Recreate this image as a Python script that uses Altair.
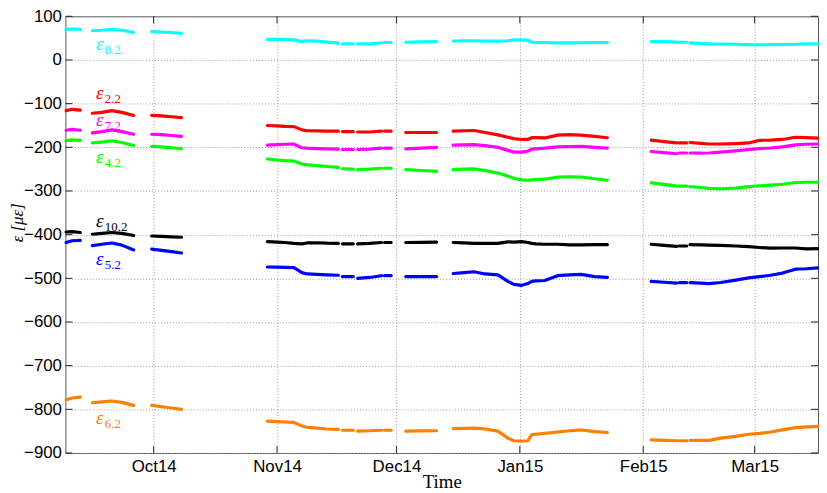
import altair as alt
import pandas as pd

# ---------------- data ----------------
seg_times = [
    ["2014-09-09T00:00", "2014-09-10T12:00", "2014-09-12T14:00"],
    ["2014-09-15T14:00", "2014-09-18T00:00", "2014-09-20T12:00", "2014-09-23T00:00", "2014-09-26T00:00"],
    ["2014-09-30T12:00", "2014-10-03T00:00", "2014-10-05T12:00", "2014-10-08T00:00"],
    ["2014-10-29T14:00", "2014-11-01T00:00", "2014-11-03T00:00", "2014-11-05T06:00", "2014-11-07T06:00",
     "2014-11-08T12:00", "2014-11-11T00:00", "2014-11-13T12:00", "2014-11-16T10:00"],
    ["2014-11-17T10:00", "2014-11-20T04:00"],
    ["2014-11-21T06:00", "2014-11-24T06:00", "2014-11-27T06:00"],
    ["2014-11-28T00:00", "2014-11-29T16:00"],
    ["2014-12-03T08:00", "2014-12-07T06:00", "2014-12-11T02:00"],
    ["2014-12-15T06:00", "2014-12-18T00:00", "2014-12-20T12:00", "2014-12-23T06:00", "2014-12-26T12:00",
     "2014-12-29T00:00", "2014-12-30T12:00", "2015-01-01T12:00", "2015-01-03T00:00", "2015-01-04T00:00",
     "2015-01-05T00:00", "2015-01-07T06:00", "2015-01-10T12:00", "2015-01-13T12:00", "2015-01-16T10:00",
     "2015-01-19T18:00", "2015-01-23T00:00"],
    ["2015-02-03T00:00", "2015-02-06T06:00", "2015-02-09T10:00"],
    ["2015-02-10T00:00", "2015-02-11T22:00"],
    ["2015-02-12T18:00", "2015-02-15T12:00", "2015-02-17T12:00", "2015-02-20T12:00", "2015-02-24T06:00",
     "2015-02-27T12:00", "2015-03-02T06:00", "2015-03-05T00:00", "2015-03-08T00:00", "2015-03-11T06:00",
     "2015-03-14T00:00", "2015-03-16T20:00"],
]

eps_8_2 = [
    [70, 71, 70],
    [67, 68, 70, 68, 63],
    [65, 64, 63, 61],
    [47, 47, 46.5, 46, 42, 44, 43, 41, 38.5],
    [37, 37],
    [37, 37, 39.5],
    [40, 40],
    [40.5, 41.5, 42],
    [43.5, 44, 44, 43, 43, 44, 46, 46, 45, 41, 40, 40, 39, 39, 39.5, 40, 40],
    [42, 42, 41],
    [40.5, 40.5],
    [39, 38, 37, 36.5, 36, 35, 34.8, 35, 35.5, 36, 37, 37],
]
eps_2_2 = [
    [-116, -113, -115],
    [-122, -120, -116, -120, -127],
    [-127, -128, -130, -132],
    [-150, -151, -152, -152.6, -160, -162, -162.5, -163, -163],
    [-164, -164],
    [-165, -165, -163],
    [-163, -163],
    [-166, -166, -166],
    [-163, -162, -161.5, -166, -171.5, -177, -180, -182, -182, -178, -178, -178.5, -172, -171, -172, -175, -178],
    [-183.7, -187, -190],
    [-190, -190],
    [-189, -191, -192.5, -192.5, -191.5, -190, -184, -183.5, -182, -177, -178, -179],
]
eps_7_2 = [
    [-161, -159, -161],
    [-167, -164, -160, -164, -170],
    [-170, -171, -173, -175],
    [-195, -194, -193, -192.6, -201, -202, -203, -203.5, -204],
    [-205, -205],
    [-205, -204, -202],
    [-202, -202],
    [-203.7, -202, -200],
    [-195, -194.5, -194, -196, -200, -207, -211, -211, -209, -204, -203.5, -202, -199, -198.5, -198, -200, -202],
    [-209.6, -212, -214.8],
    [-213, -213],
    [-213, -213.5, -213, -211, -208, -205, -203, -201.5, -199, -194.5, -193, -192.5],
]
eps_4_2 = [
    [-185, -183, -184],
    [-190, -188, -185, -189, -196],
    [-198, -199, -201, -203],
    [-226.7, -229, -230.5, -231.5, -238, -240, -242, -244, -246],
    [-249, -250],
    [-251, -250, -248],
    [-248, -248],
    [-251, -253, -255],
    [-251, -250, -249.5, -253, -259, -266, -271, -274.5, -275.5, -274.5, -274, -273, -268, -267.5, -268, -272, -275.5],
    [-281.5, -285, -289],
    [-289, -289],
    [-290, -292, -294, -295, -293.5, -290, -288, -286.5, -284.5, -280.5, -280, -280],
]
eps_10_2 = [
    [-394, -393, -395],
    [-399, -397, -395, -397, -402],
    [-403, -404, -405, -406],
    [-416, -417, -418, -420, -421, -419, -418.5, -419.5, -420],
    [-421, -421],
    [-421, -420, -418],
    [-418, -418],
    [-418, -417.5, -417],
    [-418, -419, -420, -420, -420, -416.5, -417, -416, -418, -420, -421, -422, -422, -423.5, -423.5, -423, -423],
    [-422, -424.5, -426.7],
    [-426, -426],
    [-423, -423.5, -424, -424.5, -426, -427.5, -429.5, -431, -430.5, -430.5, -432.5, -432],
]
eps_5_2 = [
    [-418, -414, -413],
    [-425, -422, -419, -424, -435],
    [-433, -436, -439, -442],
    [-474, -474.5, -475, -475.5, -487, -490, -491, -492, -493],
    [-496, -496],
    [-500, -498, -494],
    [-494, -494],
    [-496, -496, -496],
    [-489, -487, -485, -490, -492, -507, -514, -516, -512, -507, -506, -505, -494, -492, -491, -496, -498],
    [-507, -509, -511],
    [-510, -510],
    [-510, -511, -512, -509.5, -504, -499, -496, -493, -488, -479, -478, -476],
]
eps_6_2 = [
    [-778, -774, -772],
    [-785, -783, -781, -784, -791],
    [-791, -794, -797, -800],
    [-827, -828, -829, -830, -838, -841, -843, -845, -846],
    [-848, -848],
    [-850, -849, -848],
    [-848, -848],
    [-850, -849.5, -849],
    [-844, -843.5, -843, -845, -850, -866, -872, -873, -872, -858, -857, -855, -852, -849, -847, -851, -853],
    [-870, -871, -872],
    [-872, -872],
    [-871, -871, -871, -866, -862, -857, -855, -852, -847, -842, -840, -839],
]

series_names = ["8.2", "2.2", "7.2", "4.2", "10.2", "5.2", "6.2"]
series_values = [eps_8_2, eps_2_2, eps_7_2, eps_4_2, eps_10_2, eps_5_2, eps_6_2]
series_colors = ["#00ffff", "#ff0000", "#ff00ff", "#00ff00", "#000000", "#0000ff", "#ff8000"]

# label anchors (baseline of the epsilon glyph)
label_time = "2014-09-16T12:00"
label_values = [22, -89, -152, -236, -382, -470, -833]

month_ticks = ["2014-10-01T00:00", "2014-11-01T00:00", "2014-12-01T00:00",
               "2015-01-01T00:00", "2015-02-01T00:00", "2015-03-01T00:00"]
y_ticks = list(range(-900, 101, 100))

# ---------------- tables ----------------
rows = []
for name, segs in zip(series_names, series_values):
    for si, (ts, vs) in enumerate(zip(seg_times, segs)):
        for t, v in zip(ts, vs):
            rows.append({"t": t, "v": v, "series": name, "seg": si})
df = pd.DataFrame(rows)

lab_df = pd.DataFrame({
    "t": [label_time] * len(series_names),
    "v": label_values,
    "series": series_names,
    "main": ["ε"] * len(series_names),
    "sub": series_names,
})
xt_df = pd.DataFrame({"t": month_ticks})
yt_df = pd.DataFrame({"v": y_ticks})

W, H = 760, 441
TK = 7

xscale = alt.Scale(domain=[alt.DateTime(year=2014, month=9, date=8, hours=20),
                           alt.DateTime(year=2015, month=3, date=16, hours=22)])
yscale = alt.Scale(domain=[-900, 100], nice=False, zero=False)
cscale = alt.Scale(domain=series_names, range=series_colors)

tick_dt = [alt.DateTime(year=int(s[:4]), month=int(s[5:7]), date=1) for s in month_ticks]

xaxis = alt.Axis(values=tick_dt, format="%b%y", labelPadding=6, grid=True,
                 title="Time", titleFont="Liberation Serif", titleFontSize=19,
                 titleFontWeight="normal", titleX=W / 2, titleY=35,
                 titleBaseline="alphabetic", titleAlign="center")
yaxis = alt.Axis(values=y_ticks, labelPadding=4, grid=True,
                 title="ε [με]", titleFont="Liberation Serif", titleFontStyle="italic",
                 titleFontSize=17, titleFontWeight="normal", titleAngle=270,
                 titleX=-48, titleY=208, titleAlign="center", titleBaseline="middle")

X = alt.X("t:T", scale=xscale, axis=xaxis)
Y = alt.Y("v:Q", scale=yscale, axis=yaxis)
C = alt.Color("series:N", scale=cscale, legend=None)

lines = alt.Chart(df).mark_line(strokeWidth=3.2, strokeCap="round", strokeJoin="round").encode(
    x=X, y=Y, color=C, detail="seg:N",
)

lab_main = alt.Chart(lab_df).mark_text(
    align="left", baseline="alphabetic", font="Liberation Serif",
    fontStyle="italic", fontSize=19,
).encode(x=X, y=Y, text="main:N", color=C)
lab_sub = alt.Chart(lab_df).mark_text(
    align="left", baseline="alphabetic", font="Liberation Serif",
    fontSize=13, dx=9, dy=4,
).encode(x=X, y=Y, text="sub:N", color=C)

tick_color = "#222222"
xt_bottom = alt.Chart(xt_df).mark_rule(color=tick_color, strokeWidth=1).encode(
    x=X, y=alt.value(H), y2=alt.value(H - TK))
xt_top = alt.Chart(xt_df).mark_rule(color=tick_color, strokeWidth=1).encode(
    x=X, y=alt.value(0), y2=alt.value(TK))
yt_left = alt.Chart(yt_df).mark_rule(color=tick_color, strokeWidth=1).encode(
    y=Y, x=alt.value(0), x2=alt.value(TK))
yt_right = alt.Chart(yt_df).mark_rule(color=tick_color, strokeWidth=1).encode(
    y=Y, x=alt.value(W - TK), x2=alt.value(W))

chart = alt.layer(
    lines, lab_main, lab_sub, xt_bottom, xt_top, yt_left, yt_right
).properties(
    width=W, height=H,
    padding={"left": 58, "top": 6, "right": 1, "bottom": 37},
    autosize=alt.AutoSizeParams(type="none"),
    background="white",
).configure_view(
    stroke="#555555", strokeWidth=1,
).configure_axis(
    labelFont="Liberation Sans", labelFontSize=17, labelColor="#000000",
    gridColor="#999999", gridDash=[1, 2], gridWidth=1,
    domain=False, ticks=False, tickSize=0,
    labelFlush=False, labelOverlap=False,
)

chart.save("out.html", embed_options={"renderer": "svg", "actions": False})
